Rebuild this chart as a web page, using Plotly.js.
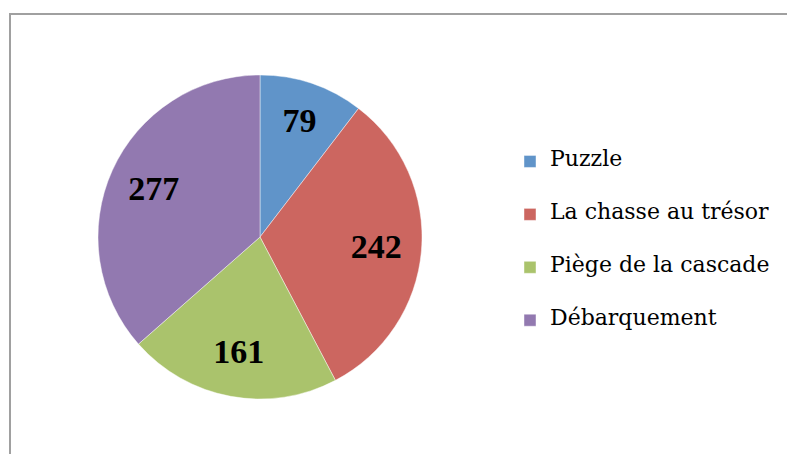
<!DOCTYPE html>
<html>
<head>
<meta charset="utf-8">
<script src="https://cdn.plot.ly/plotly-3.0.1.min.js"></script>
<style>
  html, body { margin: 0; padding: 0; background: #ffffff; }
  #chart { width: 787px; height: 454px; }
</style>
</head>
<body>
<div id="chart"></div>
<script>
var categories = ['Puzzle', 'La chasse au trésor', 'Piège de la cascade', 'Débarquement'];
var values = [79, 242, 161, 277];
var colors = ['#6094C9', '#CC6660', '#AAC36C', '#9279B0'];

var W = 787, H = 454;
var legendLabels = categories.map(function (c) {
  return '&nbsp;<br><span style="font-size:22px">' + c + '</span><br>&nbsp;';
});
var pieDomain = { x: [98 / W, 422 / W], y: [(H - 399) / H, (H - 75) / H] };

// the visible pie
var baseTrace = {
  type: 'pie',
  labels: legendLabels,
  values: values,
  sort: false,
  direction: 'clockwise',
  rotation: 0,
  marker: { colors: colors, line: { color: 'rgba(255,255,255,0.55)', width: 0.8 } },
  textinfo: 'none',
  hoverinfo: 'none',
  showlegend: true,
  domain: pieDomain
};
// transparent ring on top that only carries the value labels further out
var labelTrace = {
  type: 'pie',
  labels: legendLabels,
  values: values,
  sort: false,
  direction: 'clockwise',
  rotation: 0,
  hole: 0.44,
  marker: { colors: values.map(function () { return 'rgba(0,0,0,0)'; }), line: { width: 0 } },
  textinfo: 'value',
  textposition: 'inside',
  insidetextorientation: 'horizontal',
  textfont: { family: 'Liberation Serif, serif', size: 34, color: '#000000', weight: 'bold' },
  hoverinfo: 'none',
  showlegend: false,
  domain: pieDomain
};

var layout = {
  width: W,
  height: H,
  margin: { l: 0, r: 0, t: 0, b: 0 },
  paper_bgcolor: '#ffffff',
  showlegend: true,
  legend: {
    x: 510 / W, xanchor: 'left',
    y: 1 - 130 / H, yanchor: 'top',
    font: { family: 'DejaVu Serif, serif', size: 12.8, color: '#000000' },
    bgcolor: 'rgba(0,0,0,0)'
  },
  shapes: [{
    type: 'rect', xref: 'paper', yref: 'paper',
    x0: 10 / W, x1: 1.2, y0: -0.2, y1: 1 - 14 / H,
    line: { color: '#A0A0A0', width: 2 }, fillcolor: 'rgba(0,0,0,0)'
  }]
};

Plotly.newPlot('chart', [baseTrace, labelTrace], layout, { displayModeBar: false, staticPlot: true });
</script>
</body>
</html>
